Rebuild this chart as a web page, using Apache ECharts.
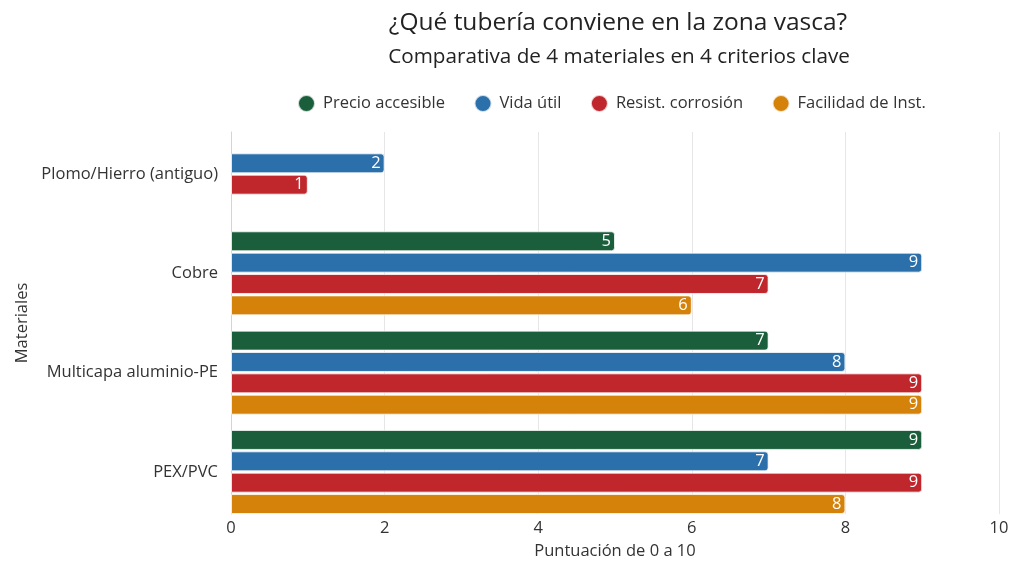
<!DOCTYPE html>
<html>
<head>
<meta charset="utf-8">
<script src="https://cdn.jsdelivr.net/npm/echarts@6/dist/echarts.min.js"></script>
<style>
html,body{margin:0;padding:0;background:#fff;}
#chart{width:1024px;height:576px;}
</style>
</head>
<body>
<div id="chart"></div>
<script>
const categories = ['Plomo/Hierro (antiguo)', 'Cobre', 'Multicapa aluminio-PE', 'PEX/PVC'];
const seriesNames = ['Precio accesible', 'Vida útil', 'Resist. corrosión', 'Facilidad de Inst.'];
const precio = [null, 5, 7, 9];
const vida = [2, 9, 8, 7];
const resist = [1, 7, 9, 9];
const facilidad = [null, 6, 9, 8];
const xTicks = [0, 2, 4, 6, 8, 10];

const colors = ['#1b5e3b', '#2b70aa', '#c0272d', '#d5820b'];
const values = [precio, vida, resist, facilidad];
const FONT = 'Open Sans';
const FS = 16.5;

const chart = echarts.init(document.getElementById('chart'), null, {renderer: 'canvas'});

const series = values.map((v, i) => ({
  name: seriesNames[i],
  type: 'bar',
  xAxisIndex: 0,
  yAxisIndex: 0,
  data: v,
  barCategoryGap: '15.4%',
  barGap: '7%',
  itemStyle: {
    color: colors[i],
    borderColor: 'rgba(255,255,255,0.75)',
    borderWidth: 1,
    borderRadius: [0, 3, 3, 0]
  },
  label: {
    show: true,
    position: 'insideRight',
    distance: 4,
    color: '#fff',
    fontFamily: FONT,
    fontSize: FS
  },
  emphasis: {disabled: true}
}));

chart.setOption({
  animation: false,
  backgroundColor: '#fff',
  color: colors,
  textStyle: {fontFamily: FONT},
  title: [{
    text: '¿Qué tubería conviene en la zona vasca?',
    left: 613, top: 6, textAlign: 'center',
    textStyle: {fontFamily: FONT, fontSize: 24.5, fontWeight: 'normal', color: '#222'}
  }, {
    text: 'Comparativa de 4 materiales en 4 criterios clave',
    left: 614, top: 42, textAlign: 'center',
    textStyle: {fontFamily: FONT, fontSize: 20.7, fontWeight: 'normal', color: '#222'}
  }],
  legend: {
    data: seriesNames,
    left: 292,
    top: 89,
    icon: 'circle',
    itemWidth: 17,
    itemHeight: 17,
    itemGap: 28.5,
    textStyle: {fontFamily: FONT, fontSize: FS, color: '#333', padding: [0, 0, 0, 3]}
  },
  grid: [
    {left: 231, right: 25, top: 124.33, height: 397.33, containLabel: false},
    {left: 231, right: 25, top: 132, height: 382, containLabel: false}
  ],
  xAxis: [{
    gridIndex: 0, type: 'value', min: 0, max: 10, interval: 2, show: false
  }, {
    gridIndex: 1, type: 'value', min: xTicks[0], max: xTicks[xTicks.length - 1], interval: 2,
    axisLine: {show: false},
    axisTick: {show: false},
    splitLine: {show: true, lineStyle: {color: '#e6e6e6', width: 1}},
    axisLabel: {margin: 6, fontFamily: FONT, fontSize: FS, color: '#333'},
    name: 'Puntuación de 0 a 10',
    nameLocation: 'middle',
    nameGap: 29,
    nameTextStyle: {fontFamily: FONT, fontSize: FS, color: '#333'}
  }],
  yAxis: [{
    gridIndex: 0, type: 'category', data: categories, inverse: true,
    axisLine: {show: false},
    axisTick: {show: false},
    splitLine: {show: false},
    axisLabel: {margin: 13, fontFamily: FONT, fontSize: FS, color: '#333'},
    name: 'Materiales',
    nameLocation: 'middle',
    nameGap: 191,
    nameRotate: 90,
    nameTextStyle: {fontFamily: FONT, fontSize: FS, color: '#333'}
  }, {
    gridIndex: 1, type: 'value', min: 0, max: 1,
    axisLine: {show: true, lineStyle: {color: '#d4d4d4', width: 1}},
    axisTick: {show: false},
    axisLabel: {show: false},
    splitLine: {show: false}
  }],
  series: series
});
</script>
</body>
</html>
